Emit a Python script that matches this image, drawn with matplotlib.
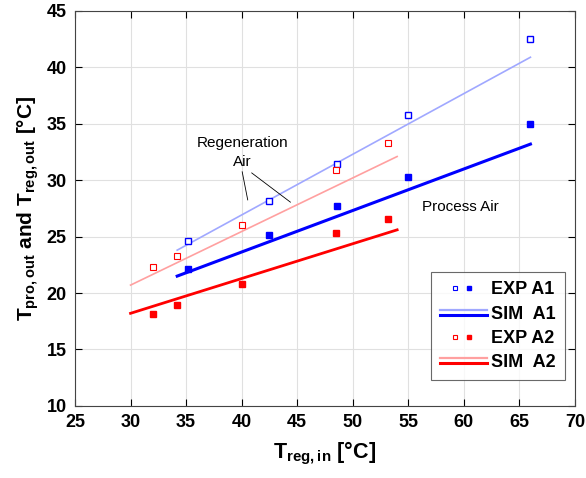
import numpy as np
import matplotlib
matplotlib.use("Agg")
import matplotlib.pyplot as plt
from matplotlib.lines import Line2D
from matplotlib.legend_handler import HandlerBase

plt.rcParams['font.family'] = 'Liberation Sans'
plt.rcParams['mathtext.fontset'] = 'custom'
plt.rcParams['mathtext.rm'] = 'Liberation Sans'
plt.rcParams['mathtext.bf'] = 'Liberation Sans:bold'

# measured regeneration inlet temperatures
t_in_a1 = [35.2, 42.5, 48.6, 55.0, 66.0]
t_in_a2 = [32.0, 34.2, 40.0, 48.5, 53.2]

# experimental outlet temperatures (regeneration air / process air)
exp_reg_a1 = [24.6, 28.2, 31.4, 35.8, 42.5]
exp_pro_a1 = [22.1, 25.1, 27.7, 30.3, 35.0]
exp_reg_a2 = [22.3, 23.3, 26.0, 30.9, 33.3]
exp_pro_a2 = [18.1, 18.9, 20.8, 25.3, 26.6]

# simulated outlet temperatures (end points)
sim_x_a1 = [34.2, 66.0]
sim_reg_a1 = [23.8, 40.9]
sim_pro_a1 = [21.5, 33.2]
sim_x_a2 = [30.0, 54.0]
sim_reg_a2 = [20.7, 32.1]
sim_pro_a2 = [18.2, 25.6]

blue_light = '#a0a8ff'
red_light = '#ffa0a0'


class Pair:
    def __init__(self, light, dark, kind):
        self.light = light
        self.dark = dark
        self.kind = kind


class HandlerPair(HandlerBase):
    def create_artists(self, legend, orig_handle, xdescent, ydescent,
                       width, height, fontsize, trans):
        yc = height / 2 - ydescent
        xc = width / 2 - xdescent
        if orig_handle.kind == 'line':
            a = Line2D([-xdescent, width - xdescent], [yc + 1.8, yc + 1.8],
                       color=orig_handle.light, lw=1.6)
            b = Line2D([-xdescent, width - xdescent], [yc - 1.8, yc - 1.8],
                       color=orig_handle.dark, lw=2.2)
        else:
            a = Line2D([xc - 6], [yc], marker='s', ms=3.5, mfc='white',
                       mec=orig_handle.dark, mew=0.8, ls='none')
            b = Line2D([xc + 4], [yc], marker='s', ms=3.5,
                       mfc=orig_handle.dark, mec=orig_handle.dark, ls='none')
        a.set_transform(trans)
        b.set_transform(trans)
        return [a, b]


fig = plt.figure(figsize=(5.86, 4.78), dpi=100)
ax = fig.add_axes([0.128, 0.151, 0.853, 0.826])

ax.plot(sim_x_a1, sim_reg_a1, color=blue_light, lw=1.2)
ax.plot(sim_x_a2, sim_reg_a2, color=red_light, lw=1.2)
ax.plot(sim_x_a1, sim_pro_a1, color='blue', lw=2.2)
ax.plot(sim_x_a2, sim_pro_a2, color='red', lw=2.0)

ax.plot(t_in_a1, exp_reg_a1, 's', ms=4.8, mfc='white', mec='blue', mew=1.0, ls='none')
ax.plot(t_in_a1, exp_pro_a1, 's', ms=4.6, mfc='blue', mec='blue', ls='none')
ax.plot(t_in_a2, exp_reg_a2, 's', ms=4.8, mfc='white', mec='red', mew=0.8, ls='none')
ax.plot(t_in_a2, exp_pro_a2, 's', ms=4.6, mfc='red', mec='red', ls='none')

ax.text(40.1, 33.3, 'Regeneration', ha='center', va='center', fontsize=11)
ax.text(40.1, 31.6, 'Air', ha='center', va='center', fontsize=11)
ax.annotate('', xy=(40.6, 28.0), xytext=(40.0, 31.0),
            arrowprops=dict(arrowstyle='-', color='black', lw=0.6))
ax.annotate('', xy=(44.6, 27.9), xytext=(40.7, 30.8),
            arrowprops=dict(arrowstyle='-', color='black', lw=0.6))
ax.text(59.7, 27.6, 'Process Air', ha='center', va='center', fontsize=11)

ax.set_xlim(25, 70)
ax.set_ylim(10, 45)
ax.set_xticks(np.arange(25, 71, 5))
ax.set_yticks(np.arange(10, 46, 5))
ax.grid(color='#e0e0e0', lw=0.8)
ax.set_axisbelow(True)
ax.tick_params(direction='in', top=True, right=True, length=5, width=0.8,
               labelsize=13, pad=6)
for lab in ax.get_xticklabels() + ax.get_yticklabels():
    lab.set_fontweight('bold')
for s in ax.spines.values():
    s.set_color('#444444')
    s.set_linewidth(0.8)

ax.set_xlabel(r'$\mathbf{T_{reg,in}}$ [°C]', fontsize=15.5, fontweight='bold',
              labelpad=6)
ax.set_ylabel(r'$\mathbf{T_{pro,out}}$ and $\mathbf{T_{reg,out}}$ [°C]',
              fontsize=15, fontweight='bold')

handles = [Pair(blue_light, 'blue', 'marker'), Pair(blue_light, 'blue', 'line'),
           Pair(red_light, 'red', 'marker'), Pair(red_light, 'red', 'line')]

leg = ax.legend(handles, ['EXP A1', 'SIM  A1', 'EXP A2', 'SIM  A2'],
                handler_map={Pair: HandlerPair()},
                loc='lower right', bbox_to_anchor=(0.98, 0.065),
                prop={'weight': 'bold', 'size': 13}, fancybox=False,
                edgecolor='#444444', handlelength=2.6, handletextpad=0.25,
                labelspacing=0.4, borderpad=0.5, borderaxespad=0)
leg.get_frame().set_linewidth(0.8)

fig.savefig('out.png', dpi=100)
